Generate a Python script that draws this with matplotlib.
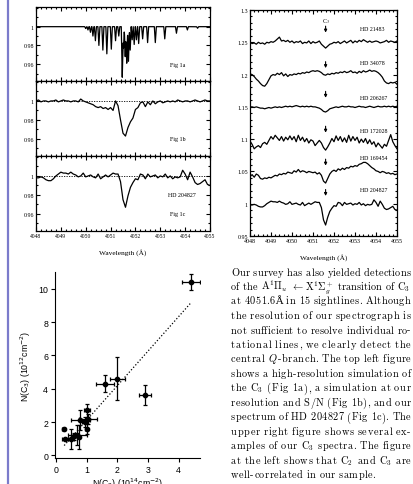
import re
import numpy as np
import matplotlib
matplotlib.use('Agg')
import matplotlib.pyplot as plt
from matplotlib.ticker import MultipleLocator, FixedLocator, FuncFormatter
from matplotlib.lines import Line2D

# ---------------- data ----------------
wl = np.round(np.arange(4048.0, 4055.001, 0.1), 1)

# Fig 1a: simulated C3 line list (wavelength, depth)
sim_line_wl = [4050.00, 4050.09, 4050.19, 4050.29, 4050.39, 4050.53, 4050.69, 4050.85,
               4051.03, 4051.20, 4051.33, 4051.47, 4051.52, 4051.59, 4051.65, 4051.72,
               4051.79, 4051.87, 4051.95, 4052.04, 4052.13, 4052.29, 4052.49, 4052.80,
               4053.18, 4053.65, 4054.09, 4054.50]
sim_line_depth = [0.002, 0.0035, 0.006, 0.010, 0.015, 0.020, 0.025, 0.029,
                  0.024, 0.015, 0.010, 0.054, 0.023, 0.032, 0.039, 0.037,
                  0.025, 0.014, 0.019, 0.014, 0.018, 0.013, 0.017, 0.017,
                  0.013, 0.007, 0.0035, 0.0017]

fig1b = [1.000, 1.001, 0.999, 1.000, 1.000, 0.999, 1.000, 1.000, 1.001, 0.999,
         1.000, 1.001, 1.000, 1.000, 0.999, 1.000, 1.000, 0.999, 1.002, 1.000,
         0.999, 0.998, 0.997, 0.996, 0.994, 0.993, 0.994, 0.992, 0.993, 0.991,
         0.993, 0.990, 1.000, 0.995, 0.980, 0.966, 0.963, 0.972, 0.978, 0.982,
         0.991, 0.993, 0.998, 0.999, 0.994, 0.999, 0.996, 1.000, 0.997, 0.999,
         1.000, 0.998, 0.999, 1.000, 0.999, 1.000, 0.999, 1.001, 1.000, 0.999,
         1.000, 1.000, 0.999, 1.000, 1.001, 1.000, 0.999, 1.000, 1.001, 1.000, 1.000]

hd204827 = [0.998, 0.998, 0.999, 0.998, 0.996, 0.995, 0.995, 0.997, 1.000, 1.002,
            1.004, 1.003, 1.003, 1.002, 1.004, 1.002, 1.001, 0.999, 1.000, 1.003,
            0.999, 1.000, 1.001, 0.999, 0.998, 1.002, 0.997, 0.999, 1.001, 0.999,
            1.001, 1.003, 1.002, 1.002, 0.994, 0.975, 0.967, 0.979, 0.988, 0.993,
            0.997, 0.996, 1.002, 1.001, 0.997, 1.002, 0.999, 1.000, 1.001, 0.998,
            1.000, 0.999, 1.002, 0.998, 1.000, 0.997, 0.999, 0.998, 0.999, 1.006,
            1.002, 0.996, 1.004, 0.999, 0.993, 0.991, 0.992, 0.994, 0.996, 0.991, 0.990]

hd21483 = [1.250, 1.248, 1.249, 1.247, 1.250, 1.248, 1.249, 1.247, 1.250, 1.249,
           1.251, 1.250, 1.252, 1.255, 1.258, 1.252, 1.253, 1.251, 1.253, 1.250,
           1.252, 1.249, 1.251, 1.250, 1.252, 1.248, 1.250, 1.249, 1.252, 1.248,
           1.251, 1.249, 1.250, 1.252, 1.247, 1.244, 1.241, 1.244, 1.247, 1.248,
           1.250, 1.249, 1.251, 1.248, 1.250, 1.252, 1.249, 1.251, 1.253, 1.249,
           1.252, 1.250, 1.253, 1.251, 1.254, 1.252, 1.250, 1.252, 1.250, 1.251,
           1.252, 1.251, 1.249, 1.250, 1.251, 1.253, 1.250, 1.252, 1.251, 1.250, 1.252]

hd34078 = [1.201, 1.200, 1.197, 1.193, 1.190, 1.186, 1.183, 1.182, 1.186, 1.192,
           1.198, 1.200, 1.199, 1.202, 1.200, 1.203, 1.198, 1.201, 1.197, 1.200,
           1.199, 1.201, 1.200, 1.202, 1.201, 1.203, 1.202, 1.204, 1.203, 1.205,
           1.206, 1.205, 1.206, 1.205, 1.203, 1.200, 1.199, 1.201, 1.200, 1.202,
           1.201, 1.203, 1.202, 1.204, 1.203, 1.205, 1.203, 1.204, 1.206, 1.203,
           1.204, 1.202, 1.205, 1.203, 1.206, 1.204, 1.205, 1.207, 1.205, 1.206,
           1.205, 1.203, 1.200, 1.196, 1.190, 1.187, 1.186, 1.188, 1.187, 1.188, 1.185]

hd206267 = [1.150, 1.150, 1.149, 1.150, 1.149, 1.148, 1.148, 1.147, 1.148, 1.149,
            1.148, 1.149, 1.150, 1.149, 1.150, 1.149, 1.150, 1.151, 1.150, 1.151,
            1.150, 1.151, 1.152, 1.151, 1.150, 1.151, 1.150, 1.151, 1.150, 1.151,
            1.150, 1.150, 1.149, 1.148, 1.146, 1.143, 1.142, 1.144, 1.147, 1.148,
            1.149, 1.150, 1.149, 1.150, 1.151, 1.150, 1.150, 1.151, 1.150, 1.150,
            1.149, 1.150, 1.151, 1.150, 1.150, 1.149, 1.150, 1.151, 1.150, 1.149,
            1.150, 1.151, 1.150, 1.150, 1.151, 1.150, 1.151, 1.150, 1.151, 1.150, 1.151]

hd172028 = [1.097, 1.092, 1.085, 1.088, 1.090, 1.087, 1.093, 1.095, 1.092, 1.098,
            1.104, 1.100, 1.106, 1.102, 1.098, 1.104, 1.097, 1.103, 1.099, 1.105,
            1.099, 1.104, 1.096, 1.106, 1.098, 1.103, 1.096, 1.101, 1.094, 1.099,
            1.097, 1.090, 1.094, 1.098, 1.094, 1.087, 1.083, 1.088, 1.094, 1.101,
            1.096, 1.105, 1.098, 1.104, 1.096, 1.102, 1.095, 1.106, 1.097, 1.104,
            1.098, 1.103, 1.094, 1.100, 1.095, 1.101, 1.093, 1.099, 1.092, 1.096,
            1.088, 1.094, 1.090, 1.086, 1.092, 1.089, 1.098, 1.107, 1.096, 1.090, 1.085]

hd169454 = [1.042, 1.045, 1.041, 1.046, 1.044, 1.039, 1.038, 1.040, 1.039, 1.041,
            1.040, 1.042, 1.044, 1.043, 1.046, 1.045, 1.047, 1.046, 1.049, 1.048,
            1.047, 1.051, 1.049, 1.053, 1.049, 1.051, 1.050, 1.048, 1.050, 1.049,
            1.048, 1.049, 1.046, 1.048, 1.044, 1.035, 1.032, 1.039, 1.046, 1.050,
            1.052, 1.050, 1.054, 1.052, 1.055, 1.053, 1.056, 1.055, 1.058, 1.057,
            1.059, 1.058, 1.061, 1.062, 1.064, 1.064, 1.062, 1.059, 1.056, 1.054,
            1.051, 1.050, 1.048, 1.050, 1.049, 1.047, 1.048, 1.046, 1.047, 1.045, 1.046]

star_names = ['HD 21483', 'HD 34078', 'HD 206267', 'HD 172028', 'HD 169454', 'HD 204827']
star_label_y = [1.271, 1.219, 1.164, 1.114, 1.072, 1.022]
arrow_tip_y = [1.265, 1.210, 1.164, 1.110, 1.059, 1.012]
c3_wl = 4051.6

left_yticks = [0.96, 0.98, 1.0]

# scatter: N(C2) vs N(C3)
n_c2 = [4.4, 2.0, 1.6, 2.9, 1.0, 0.8, 1.05, 0.95, 1.0, 0.25, 0.3, 0.5, 0.7, 0.75, 0.6]
n_c3 = [10.4, 4.6, 4.3, 3.6, 2.7, 2.1, 2.2, 2.0, 1.6, 1.6, 1.0, 1.0, 1.2, 1.1, 1.15]
n_c2_err = [0.3, 0.25, 0.3, 0.2, 0.1, 0.3, 0.3, 0.1, 0.05, 0.05, 0.1, 0.1, 0.3, 0.05, 0.1]
n_c3_err = [0.5, 1.3, 0.5, 0.6, 0.4, 0.6, 0.3, 0.3, 0.3, 0.05, 0.05, 0.6, 0.6, 0.7, 0.2]
fit_slope, fit_intercept = 2.07, 0.04
fit_x = [0.27, 4.4]

para_lines = [
    "Our survey has also yielded detections",
    r"of the A$^1\Pi_u$ $\leftarrow$X$^1\Sigma_g^+$ transition of C$_3$",
    "at 4051.6Å in 15 sightlines. Although",
    "the resolution of our spectrograph is",
    "not sufficient to resolve individual ro-",
    "tational lines, we clearly detect the",
    r"central $Q$-branch. The top left figure",
    "shows a high-resolution simulation of",
    r"the C$_3$ (Fig 1a), a simulation at our",
    "resolution and S/N (Fig 1b), and our",
    "spectrum of HD 204827 (Fig 1c). The",
    "upper right figure shows several ex-",
    r"amples of our C$_3$ spectra. The figure",
    r"at the left shows that C$_2$ and C$_3$ are",
    "well-correlated in our sample.",
]

# ---------------- figure ----------------
W, H = 413, 485
fig = plt.figure(figsize=(W / 100, H / 100), dpi=100)
SERIF = ['Liberation Serif', 'DejaVu Serif']
SANS = ['Liberation Sans', 'DejaVu Sans']

def px_axes(x0, y0, x1, y1):
    return fig.add_axes([x0 / W, 1 - y1 / H, (x1 - x0) / W, (y1 - y0) / H])

def style_spec(ax, ymin, xlabels=True):
    ax.set_xlim(4048, 4055)
    ax.xaxis.set_major_locator(MultipleLocator(1))
    ax.xaxis.set_minor_locator(MultipleLocator(0.2))
    ax.yaxis.set_minor_locator(MultipleLocator(ymin))
    ax.yaxis.set_major_formatter(FuncFormatter(lambda v, p: '%g' % round(v, 3)))
    ax.tick_params(which='both', direction='in', top=True, right=True, width=0.8, pad=1.5)
    ax.tick_params(which='major', length=3)
    ax.tick_params(which='minor', length=1.6)
    ax.tick_params(axis='y', labelsize=4.3)
    ax.tick_params(axis='x', labelsize=4.0, labelbottom=xlabels)
    for s in ax.spines.values():
        s.set_linewidth(0.9)
    for lab in ax.get_xticklabels() + ax.get_yticklabels():
        lab.set_family(SERIF)

# Left panels
ax_a = px_axes(36, 8, 210, 82)
ax_b = px_axes(36, 82, 210, 157)
ax_c = px_axes(36, 157, 210, 232)

fine = np.linspace(4048, 4055, 2801)
flux_a = np.ones_like(fine)
for lw_, d in zip(sim_line_wl, sim_line_depth):
    flux_a *= 1 - d * np.clip(1 - np.abs(fine - lw_) / 0.04, 0, None)
ax_a.plot(fine, flux_a, color='k', lw=0.9)
ax_b.plot(wl, fig1b, color='k', lw=0.9)
ax_c.plot(wl, hd204827, color='k', lw=0.9)
for ax in (ax_b, ax_c):
    ax.axhline(1.0, color='k', lw=0.6, ls=(0, (1.5, 1.5)))
for ax, xl in ((ax_a, False), (ax_b, False), (ax_c, True)):
    ax.set_ylim(0.942, 1.021)
    ax.yaxis.set_major_locator(FixedLocator(left_yticks))
    style_spec(ax, 0.01, xl)

ax_a.text(4053.4, 0.960, 'Fig 1a', fontsize=4.3, family=SERIF, va='center')
ax_b.text(4053.4, 0.960, 'Fig 1b', fontsize=4.3, family=SERIF, va='center')
ax_c.text(4053.3, 0.980, 'HD 204827', fontsize=4.3, family=SERIF, va='center')
ax_c.text(4053.4, 0.9605, 'Fig 1c', fontsize=4.3, family=SERIF, va='center')
ax_c.set_xlabel('Wavelength (Å)', fontsize=5.3, family=SERIF, labelpad=7)

# Right panel
ax_r = px_axes(250, 11, 397, 237)
for spec in (hd21483, hd34078, hd206267, hd172028, hd169454, hd204827):
    ax_r.plot(wl, spec, color='k', lw=0.9)
ax_r.set_ylim(0.95, 1.3)
ax_r.yaxis.set_major_locator(MultipleLocator(0.05))
style_spec(ax_r, 0.01, True)
ax_r.tick_params(axis='x', labelsize=4.3)
for name, ly in zip(star_names, star_label_y):
    ax_r.text(4053.25, ly, name, fontsize=4.2, family=SERIF, va='center')
for ty in arrow_tip_y:
    ax_r.annotate('', xy=(c3_wl, ty), xytext=(c3_wl, ty + 0.010),
                  arrowprops=dict(arrowstyle='-|>', color='k', lw=0.8,
                                  mutation_scale=4, shrinkA=0, shrinkB=0))
ax_r.text(c3_wl, 1.283, 'C$_3$', fontsize=4.3, family=SERIF, ha='center',
          va='center', math_fontfamily='stix')
ax_r.set_xlabel('Wavelength (Å)', fontsize=5.3, family=SERIF, labelpad=7)

# Scatter panel
ax_s = px_axes(55, 273, 200, 459)
ax_s.errorbar(n_c2, n_c3, xerr=n_c2_err, yerr=n_c3_err, fmt='o', color='k',
              ms=3.1, elinewidth=0.9, capsize=1.6, capthick=0.9)
fx = np.array(fit_x)
ax_s.plot(fx, fit_slope * fx + fit_intercept, color='k', lw=0.9, ls=(0, (1, 1.6)))
ax_s.set_xlim(-0.03, 4.7)
ax_s.set_ylim(-0.15, 11.0)
ax_s.set_xticks([0, 1, 2, 3, 4])
ax_s.set_yticks([0, 2, 4, 6, 8, 10])
for s in ('top', 'right'):
    ax_s.spines[s].set_visible(False)
for s in ('left', 'bottom'):
    ax_s.spines[s].set_linewidth(0.8)
ax_s.tick_params(direction='out', length=3, width=0.8, labelsize=6.3, pad=2)
for lab in ax_s.get_xticklabels() + ax_s.get_yticklabels():
    lab.set_family(SANS)
ax_s.set_ylabel('N(C$_3$) (10$^{12}$cm$^{-2}$)', fontsize=6.3, family=SANS, labelpad=4)
ax_s.set_xlabel('N(C$_2$) (10$^{14}$cm$^{-2}$)', fontsize=6.3, family=SANS, labelpad=1)

# blue rule at left
fig.add_artist(Line2D([8 / W, 8 / W], [0, 1], color='#7b7bcb', lw=1.6))

# justified paragraph, letter-spaced
renderer = fig.canvas.get_renderer()
x_left, x_right = 231.0, 410.5
avail = x_right - x_left
base0, dy = 275.5, 14.5
fs = 7.4
target_gap = 3.8
tok_re = re.compile(r'.\$[^$]*\$|\$[^$]*\$|.')
tracks = []
for i, line in enumerate(para_lines):
    words = line.split(' ')
    yb = 1 - (base0 + i * dy) / H
    word_items = []
    for w_ in words:
        items = []
        for tk in tok_re.findall(w_):
            t = fig.text(0, yb, tk, fontsize=fs, family=['cmr10', 'DejaVu Serif'],
                         math_fontfamily='cm', va='baseline', ha='left')
            items.append((t, t.get_window_extent(renderer).width))
        word_items.append(items)
    sum_tok = sum(wd for items in word_items for _, wd in items)
    n_inner = sum(len(items) - 1 for items in word_items)
    nw = len(words)
    last = (i == len(para_lines) - 1)
    if not last:
        track = (avail - sum_tok - target_gap * (nw - 1)) / max(n_inner, 1)
        track = min(max(track, -0.2), 1.0)
        gap = (avail - sum_tok - track * n_inner) / (nw - 1)
        tracks.append(track)
    else:
        track = float(np.mean(tracks))
        gap = target_gap
    x = x_left
    for items in word_items:
        for t, wd in items:
            t.set_x(x / W)
            x += wd + track
        x += gap - track

fig.savefig('out.png', dpi=100)
